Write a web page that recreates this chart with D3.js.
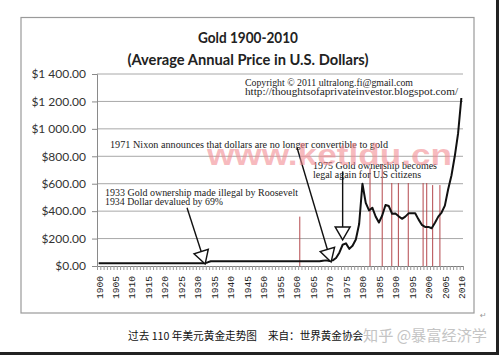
<!DOCTYPE html>
<html><head><meta charset="utf-8">
<script src="https://cdn.jsdelivr.net/npm/d3@7"></script>
<style>html,body{margin:0;padding:0;background:#fff;}svg{display:block;}</style>
</head><body>
<script>
// ---------- data ----------
const years = d3.range(1900, 2011);
const prices = [
  20.67,20.67,20.67,20.67,20.67,20.67,20.67,20.67,20.67,20.67, // 1900-1909
  20.67,20.67,20.67,20.67,20.67,20.67,20.67,20.67,20.67,20.67, // 1910-1919
  20.67,20.67,20.67,20.67,20.67,20.67,20.67,20.67,20.67,20.67, // 1920-1929
  20.67,20.67,20.67,26,35,35,35,35,35,35,                      // 1930-1939
  35,35,35,35,35,35,35,35,35,35,                               // 1940-1949
  35,35,35,35,35,35,35,35,35,35,                               // 1950-1959
  35,35,35,35,35,35,35,35,39,41,                               // 1960-1969
  36,41,58,97,155,165,125,148,193,306,                         // 1970-1979
  600,460,405,425,361,317,368,445,437,381,                     // 1980-1989
  383,362,344,360,384,384,385,340,300,285,                     // 1990-1999
  285,275,315,360,390,440,560,660,800,965,                     // 2000-2009
  1225                                                         // 2010
];
const yTicks = [0,200,400,600,800,1000,1200,1400];
const yTickLabels = ["$0.00","$200.00","$400.00","$600.00","$800.00","$1 000.00","$1 200.00","$1 400.00"];
const xTickYears = [1900,1905,1910,1915,1920,1925,1930,1935,1940,1945,1950,1955,1960,1965,1970,1975,1980,1985,1990,1995,2000,2005,2010];
const redYears = [1961,1982.3,1986,1988.9,1990.9,1993.9,1998.4,1999.5,2001.3,2003.5];
const redTops  = [360,715,745,605,605,605,605,605,590,590];
const titleLines = ["Gold 1900-2010","(Average Annual Price in U.S. Dollars)"];
const copyLines = ["Copyright © 2011 ultralong.fi@gmail.com","http://thoughtsofaprivateinvestor.blogspot.com/"];
const notes = [
  {lines:["1971 Nixon announces that dollars are no longer convertible to gold"], from:[1960.2,860], to:[1970.5,30]},
  {lines:["1975 Gold ownership becomes","legal again for U.S citizens"], from:[1974,690], to:[1974,190]},
  {lines:["1933 Gold ownership made illegal by Roosevelt","1934 Dollar devalued by 69%"], from:[1926.8,425], to:[1932.3,15]}
];
const noteTextPos = [[110,148],[313,168.5],[105,196]];
const captionParts = ["过去 110 年美元黄金走势图","来自：世界黄金协会"];
const watermark = "知乎 @暴富经济学";
const urlMark = "www.ketldu.cn";

// ---------- drawing ----------
const W = 499, H = 355;
const svg = d3.select("body").append("svg").attr("width", W).attr("height", H);
svg.append("rect").attr("width", W).attr("height", H).attr("fill", "#fff");

// chart frame
svg.append("rect").attr("x", 21).attr("y", 17.5).attr("width", 453).attr("height", 295.5)
  .attr("fill", "#fff").attr("stroke", "#9a9a9a").attr("stroke-width", 1.2);

const x = d3.scaleLinear().domain([1899.5, 2010.5]).range([97, 463]);
const y = d3.scaleLinear().domain([0, 1400]).range([266, 74]);

// gridlines
svg.append("g").selectAll("line").data(yTicks.slice(1)).join("line")
  .attr("x1", 97).attr("x2", 463)
  .attr("y1", d => y(d)).attr("y2", d => y(d))
  .attr("stroke", "#a8a8a8").attr("stroke-width", 1);

// y axis
const yAxis = svg.append("g").attr("transform", "translate(97,0)")
  .call(d3.axisLeft(y).tickValues(yTicks).tickSize(5).tickPadding(6)
    .tickFormat((d, i) => yTickLabels[i]));
yAxis.select(".domain").attr("stroke", "#8a8a8a");
yAxis.selectAll(".tick line").attr("stroke", "#8a8a8a");
yAxis.selectAll("text").attr("font-family", "Lato, 'Open Sans', sans-serif")
  .attr("font-size", 12).attr("fill", "#333");

// x axis minor ticks (category boundaries)
const xMinor = svg.append("g").attr("transform", "translate(0,266)")
  .call(d3.axisBottom(x).tickValues(d3.range(1899.5, 2011, 1)).tickSize(4).tickFormat(""));
xMinor.select(".domain").attr("stroke", "#7a7a7a");
xMinor.selectAll(".tick line").attr("stroke", "#9a9a9a");

// x axis labels
const xAxis = svg.append("g").attr("transform", "translate(0,266)")
  .call(d3.axisBottom(x).tickValues(xTickYears).tickSize(0).tickFormat(d3.format("d")));
xAxis.select(".domain").remove();
xAxis.selectAll("text")
  .attr("transform", "rotate(-90)")
  .attr("x", -10).attr("y", 0).attr("dy", "0.35em")
  .attr("text-anchor", "end")
  .attr("font-family", "'Liberation Mono', 'Courier New', monospace")
  .attr("font-size", 9.6).attr("fill", "#222");

// red vertical lines
svg.append("g").selectAll("line").data(redYears).join("line")
  .attr("x1", d => x(d)).attr("x2", d => x(d))
  .attr("y1", y(0)).attr("y2", (d, i) => y(redTops[i]))
  .attr("stroke", "#b4474c").attr("stroke-width", 1);

// price line
svg.append("path").datum(prices)
  .attr("d", d3.line().x((d, i) => x(years[i])).y(d => y(d)))
  .attr("fill", "none").attr("stroke", "#111").attr("stroke-width", 2)
  .attr("stroke-linejoin", "round");

// title
svg.append("g").selectAll("text").data(titleLines).join("text")
  .attr("x", 248).attr("y", (d, i) => 43 + i * 22)
  .attr("text-anchor", "middle")
  .attr("font-family", "Lato, 'Open Sans', sans-serif").attr("font-weight", "bold")
  .attr("font-size", 14.5).attr("fill", "#222")
  .attr("textLength", (d, i) => [100, 241][i]).attr("lengthAdjust", "spacingAndGlyphs")
  .text(d => d);

const serif = "'Liberation Serif', 'Times New Roman', serif";
// copyright
svg.append("g").selectAll("text").data(copyLines).join("text")
  .attr("x", 245).attr("y", (d, i) => 85.5 + i * 9.8)
  .attr("font-family", serif).attr("font-size", 9.5).attr("fill", "#222")
  .attr("textLength", (d, i) => [168, 213][i]).attr("lengthAdjust", "spacingAndGlyphs")
  .text(d => d);

// annotations
const noteWidths = [[278],[124,108],[193,118]];
notes.forEach((n, k) => {
  const g = svg.append("g");
  g.selectAll("text").data(n.lines).join("text")
    .attr("x", noteTextPos[k][0]).attr("y", (d, i) => noteTextPos[k][1] + i * 9)
    .attr("font-family", serif).attr("font-size", 10).attr("fill", "#222")
    .attr("textLength", (d, i) => noteWidths[k][i]).attr("lengthAdjust", "spacingAndGlyphs")
    .text(d => d);
  const x1 = x(n.from[0]), y1 = y(n.from[1]), x2 = x(n.to[0]), y2 = y(n.to[1]);
  const dx = x2 - x1, dy = y2 - y1, len = Math.hypot(dx, dy);
  const ux = dx / len, uy = dy / len, L = 13, hw = 7.5;
  const bx = x2 - ux * L, by = y2 - uy * L;
  g.append("line").attr("x1", x1).attr("y1", y1).attr("x2", bx).attr("y2", by)
    .attr("stroke", "#111").attr("stroke-width", 1.4);
  g.append("path")
    .attr("d", `M${x2},${y2}L${bx - uy * hw},${by + ux * hw}L${bx + uy * hw},${by - ux * hw}Z`)
    .attr("fill", "#fff").attr("stroke", "#111").attr("stroke-width", 1.4)
    .attr("stroke-linejoin", "miter");
});

// pink url watermark
svg.append("text").attr("x", 207).attr("y", 165)
  .attr("font-family", "'Liberation Sans', Arial, sans-serif").attr("font-weight", "bold")
  .attr("font-size", 29).attr("fill", "#f28c92").attr("fill-opacity", 0.6)
  .attr("textLength", 245).attr("lengthAdjust", "spacingAndGlyphs")
  .text(urlMark);

// paragraph mark
svg.append("text").attr("x", 480).attr("y", 318).attr("font-size", 8)
  .attr("font-family", "'DejaVu Sans', sans-serif").attr("fill", "#999").text("↵");

// caption
const cjk = "'Noto Sans CJK SC', sans-serif";
svg.append("text").attr("x", 128).attr("y", 339.5)
  .attr("font-family", cjk).attr("font-size", 11).attr("fill", "#111")
  .attr("textLength", 129).attr("lengthAdjust", "spacingAndGlyphs").text(captionParts[0]);
svg.append("text").attr("x", 268).attr("y", 339.5)
  .attr("font-family", cjk).attr("font-size", 11).attr("fill", "#111")
  .attr("textLength", 95).attr("lengthAdjust", "spacingAndGlyphs").text(captionParts[1]);
svg.append("text").attr("x", 363).attr("y", 340.5)
  .attr("font-family", cjk).attr("font-size", 15).attr("fill", "#c4c4c4")
  .attr("textLength", 124).attr("lengthAdjust", "spacingAndGlyphs").text(watermark);

// image edge borders
svg.append("line").attr("x1", 497.5).attr("x2", 497.5).attr("y1", 0).attr("y2", H)
  .attr("stroke", "#222").attr("stroke-width", 3);
svg.append("line").attr("x1", 0).attr("x2", W).attr("y1", 353.5).attr("y2", 353.5)
  .attr("stroke", "#222").attr("stroke-width", 3);
</script>
</body></html>
